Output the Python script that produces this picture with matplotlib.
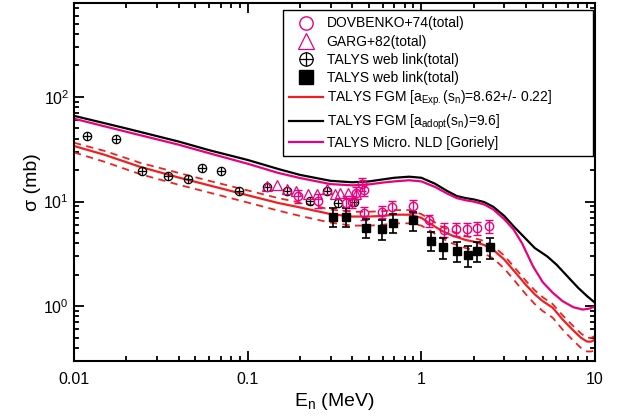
import matplotlib
matplotlib.use("Agg")
import matplotlib.pyplot as plt
from matplotlib.lines import Line2D
from matplotlib.legend_handler import HandlerTuple
from matplotlib.ticker import FuncFormatter, LogLocator

plt.rcParams['font.family'] = ['Liberation Sans', 'DejaVu Sans']
plt.rcParams['mathtext.fontset'] = 'custom'
plt.rcParams['mathtext.rm'] = 'Liberation Sans'
plt.rcParams['mathtext.it'] = 'Liberation Sans:italic'

MAG = '#e8007f'
RED = '#f02020'

# DOVBENKO+74 (total)
dov_e = [0.195, 0.255, 0.37, 0.40, 0.42, 0.455, 0.47, 0.47, 0.59, 0.68, 0.89,
         1.11, 1.35, 1.58, 1.83, 2.08, 2.45]
dov_s = [11.4, 10.2, 9.8, 10.0, 12.2, 14.8, 13.0, 7.8, 8.0, 8.9, 9.1,
         6.6, 5.4, 5.5, 5.5, 5.6, 5.8]
dov_err = [1.6, 1.5, 1.4, 1.4, 1.7, 2.1, 1.8, 1.1, 1.1, 1.3, 1.3,
           0.9, 0.8, 0.8, 0.8, 0.8, 0.8]

# GARG+82 (total)
garg_e = [0.129, 0.147, 0.168, 0.19, 0.222, 0.25, 0.285, 0.317, 0.34, 0.38, 0.42]
garg_s = [14.1, 14.4, 13.3, 12.5, 11.9, 11.9, 13.3, 11.7, 12.2, 12.2, 11.9]

# TALYS web link (total), circle-plus
web1_e = [0.0119, 0.0174, 0.0246, 0.0347, 0.0453, 0.0545, 0.0702, 0.089,
          0.129, 0.168, 0.228, 0.285, 0.33, 0.41]
web1_s = [42.5, 39.8, 19.7, 17.7, 16.6, 21.1, 19.7, 12.5,
          13.9, 12.5, 10.2, 12.7, 9.8, 10.0]

# TALYS web link (total), filled squares
web2_e = [0.309, 0.37, 0.48, 0.59, 0.69, 0.90, 1.13, 1.33, 1.60, 1.86, 2.08, 2.50]
web2_s = [7.2, 7.2, 5.65, 5.5, 6.3, 6.6, 4.25, 3.65, 3.4, 3.06, 3.4, 3.65]
web2_err = [1.5, 1.5, 1.2, 1.2, 1.3, 1.4, 0.9, 0.8, 0.75, 0.7, 0.75, 0.8]

# TALYS FGM, a_Exp (red) with upper / lower (dashed)
fgm_e = [0.01, 0.015, 0.024, 0.04, 0.06, 0.1, 0.15, 0.2, 0.3, 0.4, 0.5, 0.6,
         0.7, 0.85, 1.0, 1.1, 1.3, 1.5, 1.8, 2.0, 2.3, 2.6, 3.0, 3.4, 4.0, 4.5,
         5.0, 5.7, 6.5, 7.4, 8.3, 9.0, 9.5, 10.0]
fgm_s = [34, 28, 21.5, 17, 14.3, 11.5, 9.7, 8.8, 7.6, 7.2, 7.2, 7.3,
         7.5, 7.5, 7.0, 6.3, 5.3, 4.75, 4.3, 4.15, 3.85, 3.45, 2.8, 2.2, 1.6, 1.3,
         1.12, 0.97, 0.75, 0.6, 0.5, 0.46, 0.46, 0.48]
fgm_hi = [36.5, 30.5, 23.5, 18.8, 15.8, 12.8, 10.8, 9.8, 8.4, 8.0, 8.0, 8.1,
          8.3, 8.3, 7.6, 6.9, 5.8, 5.2, 4.7, 4.5, 4.2, 3.75, 3.05, 2.4, 1.75, 1.42,
          1.22, 1.05, 0.82, 0.66, 0.55, 0.5, 0.5, 0.52]
fgm_lo = [29.5, 24, 18.3, 14.5, 12.2, 9.8, 8.2, 7.3, 6.3, 5.9, 5.9, 6.0,
          6.2, 6.2, 5.9, 5.4, 4.5, 4.0, 3.6, 3.45, 3.2, 2.85, 2.3, 1.8, 1.3, 1.05,
          0.9, 0.78, 0.6, 0.48, 0.4, 0.37, 0.37, 0.38]

# TALYS FGM, a_adopt (black)
adopt_e = [0.01, 0.02, 0.04, 0.06, 0.1, 0.15, 0.2, 0.3, 0.4, 0.5, 0.6, 0.7,
           0.85, 1.0, 1.2, 1.4, 1.6, 1.8, 2.0, 2.3, 2.6, 3.0, 3.4, 4.0, 4.5,
           5.3, 6.0, 7.0, 8.0, 9.0, 10.0]
adopt_s = [66, 50, 37.5, 31, 25, 20.5, 18, 15.8, 15.3, 15.6, 16.3, 16.9,
           17.3, 16.9, 14.8, 12.7, 11.3, 10.8, 10.5, 9.9, 8.9, 7.3, 5.8, 4.4, 3.6,
           3.0, 2.5, 1.9, 1.5, 1.25, 1.08]

# TALYS Micro. NLD [Goriely] (magenta)
gor_e = [0.01, 0.02, 0.04, 0.06, 0.1, 0.15, 0.2, 0.3, 0.4, 0.5, 0.6, 0.7,
         0.85, 1.0, 1.2, 1.4, 1.6, 1.8, 2.0, 2.3, 2.6, 3.0, 3.4, 3.8, 4.4,
         5.0, 5.7, 6.5, 7.5, 8.5, 9.3, 10.0]
gor_s = [62, 46.5, 35, 29, 23, 18.8, 16.8, 14.7, 14.3, 14.6, 15.2, 15.6,
         16, 15.6, 13.8, 12, 10.8, 10.3, 10, 9.4, 8.4, 6.8, 5.4, 4.0, 2.4,
         1.7, 1.35, 1.12, 0.98, 0.93, 0.95, 1.0]

fig = plt.figure(figsize=(6.23, 4.16), dpi=100)
ax = fig.add_axes([0.1188, 0.1322, 0.8363, 0.8606])

ax.plot(fgm_e, fgm_hi, color=RED, lw=1.3, dashes=(4, 3))
ax.plot(fgm_e, fgm_lo, color=RED, lw=1.3, dashes=(4, 3))
ax.plot(fgm_e, fgm_s, color=RED, lw=1.6)
ax.plot(adopt_e, adopt_s, color='black', lw=1.6)
ax.plot(gor_e, gor_s, color=MAG, lw=1.6)

ax.plot(web1_e, web1_s, 'o', mfc='none', mec='black', ms=6, mew=0.9)
ax.plot(web1_e, web1_s, '+', color='black', ms=6, mew=0.9)
ax.plot(garg_e, garg_s, '^', mfc='none', mec=MAG, ms=7, mew=0.9)
ax.errorbar(dov_e, dov_s, yerr=dov_err, fmt='o', mfc='none', mec=MAG,
            ecolor=MAG, ms=6, mew=1.0, elinewidth=1.0, capsize=3, capthick=1.0)
ax.errorbar(web2_e, web2_s, yerr=web2_err, fmt='s', color='black',
            ms=6, elinewidth=1.2, capsize=3, capthick=1.2)

ax.set_xscale('log')
ax.set_yscale('log')
ax.set_xlim(0.01, 10)
ax.set_ylim(0.3, 790)
ax.xaxis.set_major_formatter(FuncFormatter(lambda v, p: f"{v:g}"))
ax.yaxis.set_major_locator(LogLocator(base=10, numticks=10))
ax.tick_params(which='both', direction='in', top=True, right=True,
               labelsize=11.5, width=1.3)
ax.tick_params(which='major', length=7)
ax.tick_params(which='minor', length=3.5)
ax.tick_params(axis='x', which='major', pad=8)
for sp in ax.spines.values():
    sp.set_linewidth(1.5)

ax.set_xlabel(r'E$_{\rm n}$ (MeV)', fontsize=14, labelpad=3)
ax.set_ylabel(r'σ (mb)', fontsize=14, labelpad=2)

h_dov = Line2D([], [], ls='none', marker='o', mfc='none', mec=MAG, ms=6, mew=1.0)
h_garg = Line2D([], [], ls='none', marker='^', mfc='none', mec=MAG, ms=7, mew=0.9)
h_w1a = Line2D([], [], ls='none', marker='o', mfc='none', mec='black', ms=6, mew=0.9)
h_w1b = Line2D([], [], ls='none', marker='+', color='black', ms=6, mew=0.9)
h_w2 = Line2D([], [], ls='none', marker='s', color='black', ms=6)
h_red = Line2D([], [], color=RED, lw=1.6)
h_blk = Line2D([], [], color='black', lw=1.6)
h_mag = Line2D([], [], color=MAG, lw=1.6)

leg = ax.legend(
    [h_dov, h_garg, (h_w1a, h_w1b), h_w2, h_red, h_blk, h_mag],
    ['DOVBENKO+74(total)', 'GARG+82(total)', 'TALYS web link(total)',
     'TALYS web link(total)',
     r'TALYS FGM [a$_{\rm Exp.}$(s$_{\rm n}$)=8.62+/- 0.22]',
     r'TALYS FGM [a$_{\rm adopt}$(s$_{\rm n}$)=9.6]',
     'TALYS Micro. NLD [Goriely]'],
    handler_map={tuple: HandlerTuple(ndivide=1)},
    loc='upper left', bbox_to_anchor=(0.401, 0.589, 0.595, 0.391),
    mode='expand', fontsize=10,
    markerscale=1.6, handlelength=2.4, handletextpad=0.3, labelspacing=0.3,
    borderpad=0.45, borderaxespad=0, fancybox=False, framealpha=1,
    edgecolor='black')
leg.get_frame().set_linewidth(1.0)

fig.savefig('out.png', dpi=100)
